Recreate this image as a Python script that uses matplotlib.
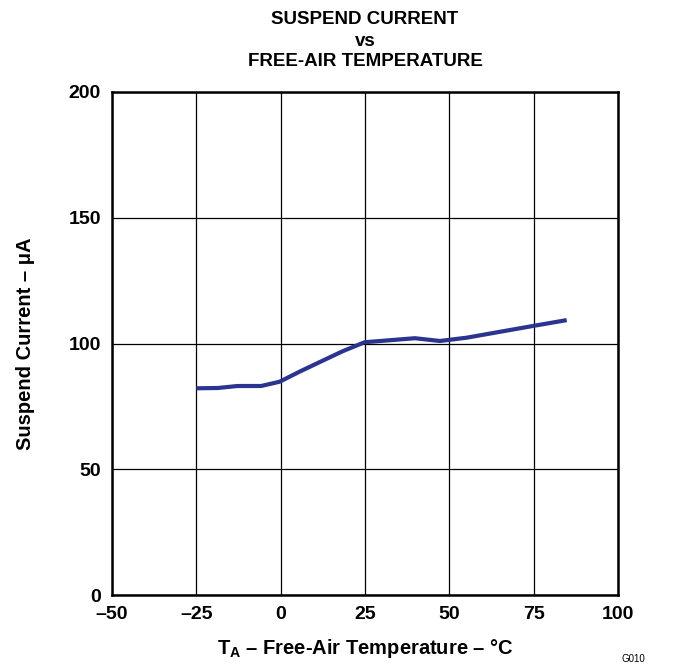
import matplotlib
matplotlib.use("Agg")
import matplotlib.pyplot as plt

temps = [-25, -18.7, -12.8, -5.8, -0.3, 5.6, 12.5, 18.5, 24.9, 39.8, 47.2, 55.1, 74.9, 84.8]
current = [82.2, 82.3, 83.1, 83.1, 84.8, 88.8, 93.2, 97.0, 100.5, 102.1, 101.0, 102.3, 107.0, 109.3]
xticks = [-50, -25, 0, 25, 50, 75, 100]
yticks = [0, 50, 100, 150, 200]

plt.rcParams['font.family'] = ['Liberation Sans', 'DejaVu Sans']
plt.rcParams['mathtext.fontset'] = 'custom'
plt.rcParams['mathtext.bf'] = 'Liberation Sans:bold'
plt.rcParams['mathtext.rm'] = 'Liberation Sans:bold'
fig = plt.figure(figsize=(6.74, 6.65), dpi=100)
ax = fig.add_axes([112/674, 1-595/665, 506/674, 503/665])
ax.plot(temps, current, color='#2b3590', lw=3.0, solid_capstyle='butt')
ax.set_xlim(-50, 100)
ax.set_ylim(0, 200)
ax.set_xticks(xticks)
ax.set_yticks(yticks)
ax.set_xticklabels([str(t).replace('-', '–') for t in xticks], fontsize=14, fontweight='bold')
ax.set_yticklabels([str(t) for t in yticks], fontsize=14, fontweight='bold')
ax.tick_params(length=0, pad=8)
ax.grid(True, color='black', lw=0.9)
for s in ax.spines.values():
    s.set_linewidth(1.8)
ax.set_xlabel(r'T$_{\mathrm{A}}$ – Free-Air Temperature – °C', fontsize=14.5, fontweight='bold', labelpad=10)
ax.set_ylabel('Suspend Current – μA', fontsize=14.5, fontweight='bold', labelpad=24)
fig.text(365/674, 1-19/665, 'SUSPEND CURRENT', ha='center', va='center', fontsize=13.5, fontweight='bold')
fig.text(365/674, 1-41/665, 'vs', ha='center', va='center', fontsize=13.5, fontweight='bold')
fig.text(365/674, 1-62/665, 'FREE-AIR TEMPERATURE', ha='center', va='center', fontsize=13.5, fontweight='bold')
fig.text(622/674, 1/665, 'G010', ha='left', va='bottom', fontsize=7)
fig.savefig('out.png', dpi=100)
